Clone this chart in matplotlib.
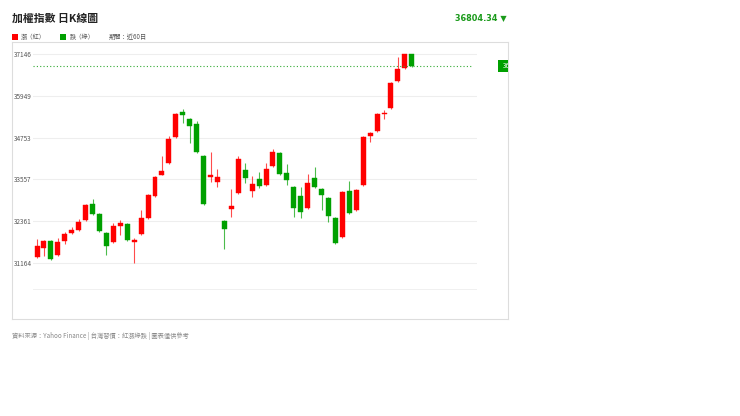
import matplotlib.pyplot as plt
from matplotlib.patches import Rectangle
from matplotlib.transforms import blended_transform_factory

plt.rcParams["font.family"] = ["Noto Sans CJK TC", "DejaVu Sans"]

# 資料 (近60日, 由圖讀取)
opens = [31331, 31589, 31790, 31388, 31790, 32019, 32105, 32392, 32851, 32564,
         32019, 31761, 32220, 32277, 31761, 31991, 32450, 33081, 33683, 34028,
         34773, 35491, 35290, 35146, 34228, 33626, 33482, 32364, 32708, 33167,
         33827, 33224, 33568, 33396, 33941, 34314, 33741, 33339, 33081, 32736,
         33597, 33282, 33023, 32450, 31904, 33224, 32679, 33396, 34802, 34946,
         35433, 35605, 36380, 36753, 37146]
highs = [31847, 31820, 31818, 31876, 32048, 32191, 32421, 32850, 32995, 32590,
         32040, 32306, 32392, 32300, 31876, 32679, 33130, 33650, 34228, 34802,
         35470, 35577, 35320, 35233, 34250, 34343, 33855, 32390, 33282, 34228,
         34028, 33655, 33769, 34028, 34429, 34340, 33999, 33360, 33339, 33712,
         33912, 33300, 33050, 32470, 33220, 33511, 33280, 34800, 34910, 35460,
         35548, 36350, 37069, 37160, 37160]
lows = [31302, 31359, 31250, 31360, 31704, 31990, 32080, 32370, 32540, 32050,
        31388, 31740, 31962, 31790, 31164, 31970, 32430, 33060, 33670, 34000,
        34750, 35175, 34601, 34320, 32830, 33482, 33339, 31560, 32478, 33140,
        33454, 33052, 33310, 33370, 33920, 33690, 33396, 32478, 32450, 32710,
        33310, 32679, 32335, 31710, 31880, 32570, 32650, 33370, 34630, 34920,
        35290, 35580, 36360, 36730, 36780]
closes = [31646, 31790, 31273, 31761, 31991, 32105, 32335, 32823, 32564, 32077,
          31646, 32220, 32306, 31818, 31818, 32450, 33109, 33626, 33798, 34716,
          35433, 35405, 35089, 34343, 32851, 33683, 33626, 32134, 32794, 34142,
          33597, 33425, 33368, 33855, 34343, 33712, 33540, 32736, 32622, 33454,
          33339, 33109, 32507, 31732, 33196, 32593, 33253, 34773, 34888, 35433,
          35462, 36323, 36724, 37146, 36804.34]

y_ticks = [31164, 32361, 33557, 34753, 35949, 37146]
last_close = 36804.34

up_color = "#ff0000"
down_color = "#00a000"

fig = plt.figure(figsize=(7.4, 4.16), dpi=100)

# 外框
frame = fig.add_axes([12 / 740, 1 - 319 / 416, 496 / 740, 277 / 416])
frame.set_xticks([])
frame.set_yticks([])
for s in frame.spines.values():
    s.set_color("#dddddd")
    s.set_linewidth(0.8)
frame.set_zorder(0)

ax = fig.add_axes([33 / 740, 1 - 290 / 416, 444 / 740, 242 / 416])
ax.patch.set_alpha(0)
ax.set_zorder(1)

n = len(opens)
for i in range(n):
    o, h, l, c = opens[i], highs[i], lows[i], closes[i]
    color = up_color if c >= o else down_color
    ax.vlines(i, l, h, color=color, linewidth=0.8, alpha=0.7)
    ax.add_patch(Rectangle((i - 0.36, min(o, c)), 0.72, max(abs(c - o), 12),
                           facecolor=color, edgecolor=color, linewidth=0.3))

ax.set_xlim(-0.58, 63.4)
ax.set_ylim(30384, 37327)

for v in y_ticks:
    ax.axhline(v, color="#eeeeee", linewidth=0.8, zorder=0)
ax.axhline(30384, color="#eeeeee", linewidth=1.2, zorder=0)

# 最新收盤虛線
ax.plot([-0.58, 62.8], [last_close, last_close], linestyle=(0, (1, 2)),
        color="#33aa33", linewidth=0.8)

ax.set_yticks(y_ticks)
ax.set_yticklabels([str(v) for v in y_ticks], fontsize=4.6, color="#555555")
ax.tick_params(axis="y", length=0, pad=1)
ax.set_xticks([])
for s in ax.spines.values():
    s.set_visible(False)

# 右側價格標籤 (被外框裁切)
trans = blended_transform_factory(fig.transFigure, ax.transData)
lbl = Rectangle((498 / 740, last_close - 170), 40 / 740, 340, transform=trans,
                facecolor=down_color, edgecolor="none", zorder=3)
fig.add_artist(lbl)
lbl.set_clip_box(frame.bbox)
t = fig.text(503 / 740, last_close, "36804.34", transform=trans, fontsize=4.6,
             color="white", va="center", ha="left", zorder=4)
t.set_clip_box(frame.bbox)
t.set_clip_on(True)

# 標題
fig.text(12 / 740, 1 - 19 / 416, "加權指數 日K線圖", fontsize=7.8, fontweight="bold",
         color="#222222", va="center", ha="left")
fig.text(507 / 740, 1 - 18 / 416, "36804.34 ▼", fontsize=5.9, fontweight="bold",
         color="#1a9a1a", va="center", ha="right", family=["DejaVu Sans"])

# 圖例
fig.add_artist(Rectangle((12 / 740, 1 - 40 / 416), 6 / 740, 6 / 416,
                         transform=fig.transFigure, facecolor=up_color, edgecolor="none"))
fig.text(21 / 740, 1 - 37 / 416, "漲（紅）", fontsize=4.5, color="#555555", va="center")
fig.add_artist(Rectangle((60 / 740, 1 - 40 / 416), 6 / 740, 6 / 416,
                         transform=fig.transFigure, facecolor=down_color, edgecolor="none"))
fig.text(70 / 740, 1 - 37 / 416, "跌（綠）", fontsize=4.5, color="#555555", va="center")
fig.text(109 / 740, 1 - 37 / 416, "期間：近60日", fontsize=4.5, color="#555555", va="center")

# 資料來源
fig.text(12 / 740, 1 - 336 / 416, "資料來源：Yahoo Finance | 台灣習慣：紅漲綠跌 | 圖表僅供參考",
         fontsize=4.5, color="#888888", va="center")

fig.savefig("out.png", dpi=100)
plt.close(fig)
